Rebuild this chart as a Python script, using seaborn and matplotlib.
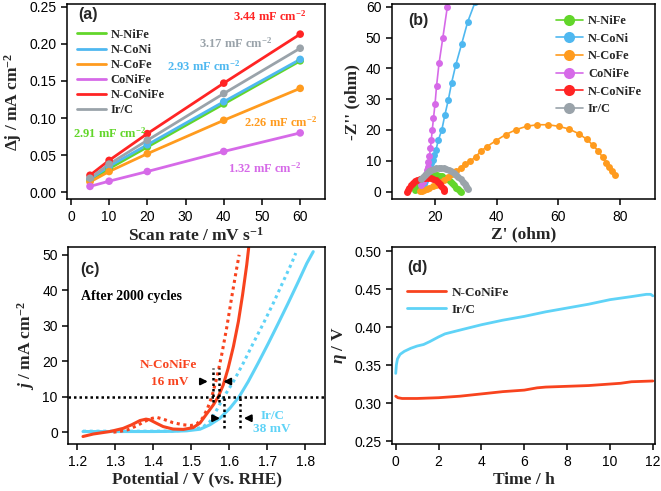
import matplotlib.pyplot as plt
import seaborn as sns

# -----------------------------
# Data
# -----------------------------

# (a) double-layer capacitance
scan_rate = [5, 10, 20, 40, 60]
dj_nnife = [0.016, 0.032, 0.061, 0.119, 0.177]
dj_nconi = [0.018, 0.035, 0.064, 0.122, 0.179]
dj_ncofe = [0.014, 0.028, 0.052, 0.097, 0.140]
dj_conife = [0.008, 0.015, 0.028, 0.055, 0.080]
dj_nconife = [0.023, 0.043, 0.079, 0.147, 0.213]
dj_irc = [0.019, 0.038, 0.070, 0.133, 0.194]
cdl_labels = ["2.91", "2.93", "2.26", "1.32", "3.44", "3.17"]

# (b) Nyquist plots
zre_nnife = [13.5, 14.0, 14.6, 15.3, 16.0, 16.8, 17.6, 18.4, 19.2, 20.0, 20.8, 21.6,
             22.4, 23.2, 24.0, 24.8, 25.5, 26.2, 26.8, 27.4, 28.0, 28.5]
zim_nnife = [0.5, 1.5, 2.5, 3.3, 4.0, 4.6, 5.0, 5.3, 5.5, 5.5, 5.4, 5.2,
             4.9, 4.5, 4.0, 3.4, 2.7, 2.0, 1.3, 0.7, 0.2, -0.2]
zre_nconi = [15.5, 16.0, 16.3, 16.7, 17.1, 17.5, 17.9, 18.4, 18.8, 19.3, 19.8, 20.3,
             21.1, 22.2, 23.2, 24.3, 25.4, 26.7, 28.6, 30.6, 33.0]
zim_nconi = [0.5, 1.5, 2.5, 3.5, 4.6, 5.7, 6.8, 8.0, 9.2, 10.4, 11.8, 13.5,
             16.8, 20.0, 24.9, 29.7, 35.4, 41.0, 47.8, 55.1, 61.5]
zre_ncofe = [15.2, 15.8, 16.5, 17.3, 18.2, 19.2, 20.3, 21.5, 22.8, 24.1, 25.5, 26.9,
             28.3, 29.8, 31.35, 33.2, 34.9, 36.8, 39.7, 42.9, 46.3, 49.7, 53.2, 56.7,
             60.1, 63.5, 66.6, 69.2, 71.3, 73.0, 74.4, 75.5, 76.5, 77.4, 78.3]
zim_ncofe = [0.2, 0.3, 0.5, 0.8, 1.2, 1.7, 2.3, 3.0, 3.8, 4.7, 5.7, 6.7,
             7.8, 8.8, 9.8, 11.35, 13.1, 14.6, 16.5, 18.5, 20.1, 21.2, 21.7, 21.7,
             21.2, 20.3, 18.8, 17.0, 15.0, 13.1, 11.1, 9.3, 7.9, 6.6, 5.3]
zre_conife = [15.6, 16.0, 16.5, 17.0, 17.4, 17.6, 17.8, 18.2, 18.5, 18.8, 19.1, 19.5,
              20.0, 20.5, 21.3, 22.5, 24.0]
zim_conife = [2.0, 3.0, 4.2, 5.6, 7.0, 8.1, 9.7, 11.6, 14.1, 16.8, 20.0, 23.8,
              28.4, 34.3, 41.6, 49.7, 60.0]
zre_nconife = [11.0, 11.3, 11.7, 12.2, 12.8, 13.5, 14.3, 15.1, 16.0, 16.9, 17.8, 18.7,
               19.5, 20.3, 21.0, 21.6, 22.1, 22.5, 22.8, 23.0]
zim_nconife = [0.0, 0.6, 1.3, 2.0, 2.7, 3.3, 3.8, 4.1, 4.3, 4.4, 4.4, 4.3,
               4.1, 3.7, 3.2, 2.6, 1.9, 1.3, 0.7, 0.2]
zre_irc = [15.5, 16.0, 16.6, 17.3, 18.0, 18.8, 19.6, 20.4, 21.2, 22.0, 22.8, 23.6,
           24.4, 25.2, 26.0, 26.8, 27.6, 28.3, 29.0, 29.6, 30.1, 30.5, 30.8]
zim_irc = [4.0, 4.8, 5.5, 6.1, 6.6, 7.0, 7.3, 7.5, 7.6, 7.6, 7.5, 7.3,
           7.0, 6.6, 6.1, 5.5, 4.8, 4.0, 3.2, 2.4, 1.7, 1.1, 0.8]

# (c) polarization curves, initial (dotted) and after 2000 cycles (solid)
e_nconife = [1.215, 1.242, 1.286, 1.321, 1.343, 1.365, 1.381, 1.391, 1.409, 1.426, 1.452,
             1.479, 1.505, 1.523, 1.540, 1.558, 1.571, 1.584, 1.597, 1.611, 1.624, 1.635,
             1.646, 1.651]
j_nconife = [-1.2, -0.5, 0.2, 1.1, 2.1, 3.3, 3.7, 3.5, 2.5, 1.6, 0.9,
             0.8, 1.3, 2.6, 5.1, 7.7, 10.0, 13.3, 18.0, 24.2, 31.2, 38.7,
             47.2, 51.9]
e_nconife_0 = [1.295, 1.315, 1.333, 1.356, 1.375, 1.392, 1.409, 1.426, 1.452, 1.479, 1.500,
               1.515, 1.530, 1.542, 1.554, 1.567, 1.580, 1.593, 1.606, 1.618, 1.626]
j_nconife_0 = [0.0, 0.3, 0.7, 1.8, 2.9, 3.8, 4.2, 3.7, 2.7, 2.1, 1.9,
               2.4, 4.0, 6.5, 10.0, 15.2, 21.8, 29.3, 37.8, 45.3, 50.0]
e_irc = [1.215, 1.30, 1.40, 1.45, 1.488, 1.523, 1.549, 1.575, 1.602, 1.626, 1.65,
         1.676, 1.703, 1.729, 1.755, 1.782, 1.804, 1.821]
j_irc = [0.2, 0.2, 0.2, 0.25, 0.4, 0.85, 2.1, 3.9, 6.8, 10.0, 14.3,
         19.5, 25.1, 30.7, 36.4, 42.5, 47.6, 50.9]
e_irc_0 = [1.215, 1.30, 1.40, 1.45, 1.49, 1.515, 1.532, 1.549, 1.567, 1.586, 1.611,
           1.637, 1.663, 1.690, 1.716, 1.742, 1.764, 1.775]
j_irc_0 = [0.3, 0.3, 0.3, 0.35, 0.6, 1.0, 1.6, 3.0, 6.3, 10.0, 14.3,
           19.5, 25.1, 30.7, 36.4, 42.5, 47.6, 50.5]

# (d) chronopotentiometry
t_nconife = [0.0, 0.1, 0.3, 1.0, 2.0, 3.0, 4.0, 5.0, 6.0, 6.6, 7.0, 8.0, 9.0, 10.0,
             10.5, 11.0, 12.0]
eta_nconife = [0.309, 0.307, 0.306, 0.306, 0.307, 0.309, 0.312, 0.315, 0.317, 0.320,
               0.321, 0.322, 0.323, 0.325, 0.326, 0.328, 0.329]
t_irc = [0.0, 0.03, 0.08, 0.2, 0.4, 0.7, 1.0, 1.3, 1.6, 2.0, 2.3, 3.0, 4.0, 5.0, 6.0,
         7.0, 8.0, 9.0, 10.0, 11.0, 11.7, 11.9, 12.0]
eta_irc = [0.339, 0.350, 0.358, 0.364, 0.368, 0.372, 0.375, 0.377, 0.381, 0.387, 0.391,
           0.396, 0.403, 0.409, 0.414, 0.420, 0.425, 0.430, 0.436, 0.440, 0.443, 0.443,
           0.441]

# -----------------------------
# Style
# -----------------------------

sns.set_style("ticks")
plt.rcParams["font.family"] = ["Liberation Sans", "DejaVu Sans"]
plt.rcParams["mathtext.fontset"] = "custom"
plt.rcParams["mathtext.rm"] = "Liberation Serif:bold"
plt.rcParams["mathtext.it"] = "Liberation Serif:italic:bold"
plt.rcParams["mathtext.bf"] = "Liberation Serif:bold"

GREEN = "#62d62a"
BLUE = "#4fb8f0"
ORANGE = "#ff9b1e"
MAGENTA = "#d66ae8"
RED = "#ff2424"
GRAY = "#9aa3aa"
RED2 = "#f8431e"
CYAN = "#5fd3f7"

serif = dict(family="Liberation Serif", weight="bold")
lab = dict(family="Liberation Serif", weight="bold", size=12.5)

fig = plt.figure(figsize=(6.61, 4.91), dpi=100)
ax_a = fig.add_axes([0.1009, 0.5941, 0.3908, 0.3978])
ax_b = fig.add_axes([0.5926, 0.5941, 0.3983, 0.3978])
ax_c = fig.add_axes([0.1033, 0.0951, 0.3884, 0.4025])
ax_d = fig.add_axes([0.5935, 0.0951, 0.3974, 0.4025])

for ax in [ax_a, ax_b, ax_c, ax_d]:
    for s in ax.spines.values():
        s.set_linewidth(1.1)
        s.set_color("black")
    ax.tick_params(direction="out", length=4, width=1.1, labelsize=10, colors="black")

# -----------------------------
# (a) Cdl
# -----------------------------

series_a = [
    ("N-NiFe", dj_nnife, GREEN),
    ("N-CoNi", dj_nconi, BLUE),
    ("N-CoFe", dj_ncofe, ORANGE),
    ("CoNiFe", dj_conife, MAGENTA),
    ("N-CoNiFe", dj_nconife, RED),
    ("Ir/C", dj_irc, GRAY),
]
for name, vals, col in series_a:
    sns.lineplot(x=scan_rate, y=vals, ax=ax_a, color=col, lw=2, label=name)
    sns.scatterplot(x=scan_rate, y=vals, ax=ax_a, color=col, s=30, edgecolor="none", zorder=3)

ax_a.set_xlim(-1.1, 66.5)
ax_a.set_ylim(-0.0094, 0.2536)
ax_a.set_xticks([0, 10, 20, 30, 40, 50, 60])
ax_a.set_yticks([0, 0.05, 0.10, 0.15, 0.20, 0.25])
ax_a.set_yticklabels(["0.00", "0.05", "0.10", "0.15", "0.20", "0.25"])
ax_a.set_xlabel("Scan rate / mV s$^{-1}$", **lab, labelpad=2)
ax_a.set_ylabel("Δj / mA cm$^{-2}$", **lab, labelpad=4)
ax_a.legend(loc="upper left", bbox_to_anchor=(0.015, 0.905), frameon=False,
            prop=dict(family="Liberation Serif", weight="bold", size=9),
            handlelength=2.3, handletextpad=0.4, labelspacing=0.25, borderpad=0)
ax_a.text(0.044, 0.944, "(a)", transform=ax_a.transAxes, fontsize=11.5,
          fontweight="bold", va="center")

cdl_pos = [(10.0, 0.0798, GREEN), (34.6, 0.170, BLUE), (55.0, 0.0948, ORANGE),
           (50.6, 0.0326, MAGENTA), (52.1, 0.2376, RED), (43.2, 0.2012, GRAY)]
for txt, (x, y, col) in zip(cdl_labels, cdl_pos):
    ax_a.text(x, y, txt + " mF cm$^{-2}$", color=col, fontsize=9, ha="center",
              va="center", **serif)

# -----------------------------
# (b) Nyquist
# -----------------------------

series_b = [
    ("N-NiFe", zre_nnife, zim_nnife, GREEN),
    ("N-CoNi", zre_nconi, zim_nconi, BLUE),
    ("N-CoFe", zre_ncofe, zim_ncofe, ORANGE),
    ("CoNiFe", zre_conife, zim_conife, MAGENTA),
    ("N-CoNiFe", zre_nconife, zim_nconife, RED),
    ("Ir/C", zre_irc, zim_irc, GRAY),
]
for name, xs, ys, col in series_b:
    sns.lineplot(x=xs, y=ys, ax=ax_b, color=col, lw=1.2, sort=False, estimator=None,
                 marker="o", markersize=5, markeredgewidth=0, label=name)

ax_b.set_xlim(5.95, 91.35)
ax_b.set_ylim(-2.5, 60.9)
ax_b.set_xticks([20, 40, 60, 80])
ax_b.set_yticks([0, 10, 20, 30, 40, 50, 60])
ax_b.set_xlabel("Z' (ohm)", **lab, labelpad=2)
ax_b.set_ylabel("-Z'' (ohm)", **lab, labelpad=4)
ax_b.legend(loc="upper right", bbox_to_anchor=(0.975, 0.975), frameon=False,
            prop=dict(family="Liberation Serif", weight="bold", size=9),
            handlelength=2.2, handletextpad=0.4, labelspacing=0.45, borderpad=0,
            markerscale=1.6)
ax_b.text(0.062, 0.913, "(b)", transform=ax_b.transAxes, fontsize=11.5,
          fontweight="bold", va="center")

# -----------------------------
# (c) LSV
# -----------------------------

dots = (0, (1, 1.2))
sns.lineplot(x=e_irc, y=j_irc, ax=ax_c, color=CYAN, lw=2.2)
sns.lineplot(x=e_irc_0, y=j_irc_0, ax=ax_c, color=CYAN, lw=2.2, ls=dots)
sns.lineplot(x=e_nconife, y=j_nconife, ax=ax_c, color=RED2, lw=2.2)
sns.lineplot(x=e_nconife_0, y=j_nconife_0, ax=ax_c, color=RED2, lw=2.2, ls=dots)

ax_c.axhline(10, color="black", lw=1.8, ls=dots)
ax_c.vlines([1.556, 1.573], 8.6, 18.2, color="black", lw=1.8, ls=dots)
ax_c.vlines([1.586, 1.628], 1.1, 10, color="black", lw=1.8, ls=dots)
arrow = dict(arrowstyle="-|>", color="black", lw=1.5, mutation_scale=10)
ax_c.annotate("", xy=(1.551, 14.3), xytext=(1.516, 14.3), arrowprops=arrow)
ax_c.annotate("", xy=(1.577, 14.3), xytext=(1.611, 14.3), arrowprops=arrow)
ax_c.annotate("", xy=(1.583, 3.95), xytext=(1.553, 3.95), arrowprops=arrow)
ax_c.annotate("", xy=(1.631, 3.95), xytext=(1.666, 3.95), arrowprops=arrow)

ax_c.text(1.44, 19.0, "N-CoNiFe", color=RED2, fontsize=9.5, ha="center", va="center", **serif)
ax_c.text(1.444, 14.3, "16 mV", color=RED2, fontsize=9.5, ha="center", va="center", **serif)
ax_c.text(1.714, 4.7, "Ir/C", color=CYAN, fontsize=9.5, ha="center", va="center", **serif)
ax_c.text(1.711, 1.0, "38 mV", color=CYAN, fontsize=9.5, ha="center", va="center", **serif)
ax_c.text(1.211, 38.3, "After 2000 cycles", color="black", fontsize=10, ha="left",
          va="center", **serif)
ax_c.text(0.046, 0.882, "(c)", transform=ax_c.transAxes, fontsize=11.5,
          fontweight="bold", va="center")

ax_c.set_xlim(1.1763, 1.852)
ax_c.set_ylim(-3.4, 52.3)
ax_c.set_xticks([1.2, 1.3, 1.4, 1.5, 1.6, 1.7, 1.8])
ax_c.set_yticks([0, 10, 20, 30, 40, 50])
ax_c.set_xlabel("Potential / V (vs. RHE)", **lab, labelpad=2)
ax_c.set_ylabel("$j$ / mA cm$^{-2}$", **lab, labelpad=4)

# -----------------------------
# (d) stability
# -----------------------------

sns.lineplot(x=t_nconife, y=eta_nconife, ax=ax_d, color=RED2, lw=2, label="N-CoNiFe")
sns.lineplot(x=t_irc, y=eta_irc, ax=ax_d, color=CYAN, lw=2, label="Ir/C")

ax_d.set_xlim(-0.16, 12.1)
ax_d.set_ylim(0.2457, 0.5057)
ax_d.set_xticks([0, 2, 4, 6, 8, 10, 12])
ax_d.set_yticks([0.25, 0.30, 0.35, 0.40, 0.45, 0.50])
ax_d.set_yticklabels(["0.25", "0.30", "0.35", "0.40", "0.45", "0.50"])
ax_d.set_xlabel("Time / h", **lab, labelpad=2)
ax_d.set_ylabel("$\\eta$ / V", **lab, labelpad=4)
ax_d.legend(loc="upper left", bbox_to_anchor=(0.03, 0.83), frameon=False,
            prop=dict(family="Liberation Serif", weight="bold", size=9.5),
            handlelength=3, handletextpad=0.4, labelspacing=0.35, borderpad=0)
ax_d.text(0.056, 0.894, "(d)", transform=ax_d.transAxes, fontsize=11.5,
          fontweight="bold", va="center")

plt.savefig("out.png", dpi=100)
